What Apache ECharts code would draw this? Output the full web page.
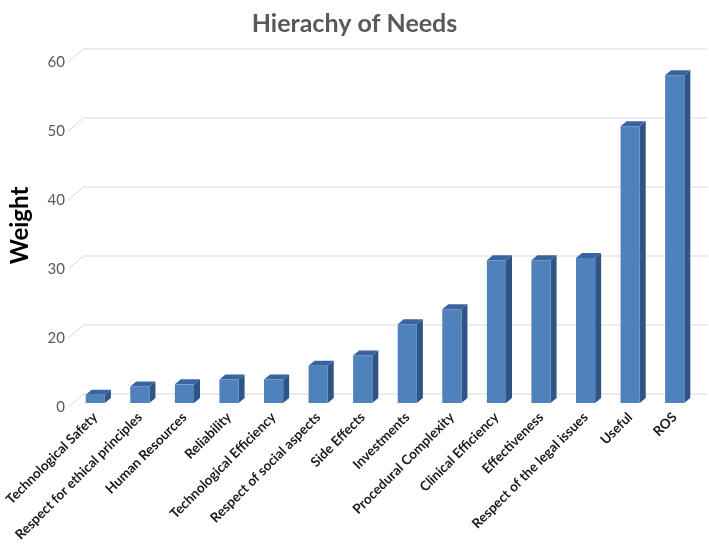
<!DOCTYPE html>
<html>
<head>
<meta charset="utf-8">
<script src="https://cdn.jsdelivr.net/npm/echarts@6/dist/echarts.min.js"></script>
<style>html,body{margin:0;padding:0;background:#fff}#c{width:709px;height:548px}</style>
</head>
<body>
<div id="c"></div>
<script>
var categories = ['Technological Safety','Respect for ethical principles','Human Resources','Reliability','Technological Efficiency','Respect of social aspects','Side Effects','Investments','Procedural Complexity','Clinical Efficiency','Effectiveness','Respect of the legal issues','Useful','ROS'];
var weights = [11.2, 12.4, 12.7, 13.4, 13.4, 15.4, 16.9, 21.4, 23.6, 30.7, 30.7, 31.0, 50.1, 57.5];
var tickValues = [10, 20, 30, 40, 50, 60];
var tickLabels = ['0', '20', '30', '40', '50', '60'];

var AXIS_MIN = 10, AXIS_MAX = 60, STEP = 10;
var chart = echarts.init(document.getElementById('c'), null, {renderer: 'canvas'});

function wallItem(params, api) {
  var cs = params.coordSys;
  var v = api.value(1);
  var y = api.coord([0, v])[1];
  var x0 = cs.x;
  return {
    type: 'polyline',
    shape: {points: [[x0 - 4.6, y + 4], [x0 + 10.4, y - 9], [x0 + cs.width + 10.4, y - 9]]},
    style: {stroke: '#d9d9d9', lineWidth: 1, fill: null},
    silent: true
  };
}

function barItem(params, api) {
  var i = api.value(0);
  var top = api.coord([i, api.value(1)]);
  var base = api.coord([i, AXIS_MIN]);
  var w = api.size([1, 0])[0] * 0.43;
  var xl = top[0] - w / 2, xr = top[0] + w / 2;
  var yt = top[1], yb = base[1];
  var dx = 6, dy = 5;
  return {
    type: 'group',
    children: [
      {type: 'polygon', shape: {points: [[xr, yt], [xr + dx, yt - dy], [xr + dx, yb - dy], [xr, yb]]}, style: {fill: '#2f5486'}},
      {type: 'polygon', shape: {points: [[xl, yt], [xl + dx, yt - dy], [xr + dx, yt - dy], [xr, yt]]}, style: {fill: '#3a64a0'}},
      {type: 'rect', shape: {x: xl, y: yt, width: w, height: yb - yt}, style: {fill: '#4f81bd'}}
    ]
  };
}

chart.setOption({
  animation: false,
  backgroundColor: '#fff',
  title: {
    text: 'Hierachy of Needs', left: 'center', top: 6,
    textStyle: {fontFamily: 'Lato', fontWeight: 'bold', fontSize: 25, color: '#595959'}
  },
  grid: [
    {left: 73, right: 12, top: 58, bottom: 145},
    {left: 68, right: 16, top: 62, bottom: 141}
  ],
  xAxis: [
    {
      type: 'category', gridIndex: 0, data: categories,
      axisLine: {show: false}, axisTick: {show: false},
      axisLabel: {interval: 0, rotate: 45, margin: 12, fontFamily: 'Lato', fontWeight: 'bold', fontSize: 13.5, color: '#1a1a1a'}
    },
    {type: 'category', gridIndex: 1, data: categories, show: false}
  ],
  yAxis: [
    {type: 'value', gridIndex: 0, min: AXIS_MIN, max: AXIS_MAX, interval: STEP, show: false},
    {
      type: 'value', gridIndex: 1, min: AXIS_MIN, max: AXIS_MAX, interval: STEP,
      axisLine: {show: false}, axisTick: {show: false}, splitLine: {show: false},
      axisLabel: {margin: 8, fontFamily: 'Lato', fontSize: 15, color: '#595959',
        formatter: function (v) { var k = tickValues.indexOf(v); return k >= 0 ? tickLabels[k] : ''; }},
      name: 'Weight', nameLocation: 'middle', nameRotate: 90, nameGap: 41,
      nameTextStyle: {fontFamily: 'Lato', fontWeight: 'bold', fontSize: 24, color: '#000', padding: [0, 0, 0, 18]}
    }
  ],
  series: [
    {
      type: 'custom', xAxisIndex: 0, yAxisIndex: 0, renderItem: wallItem, silent: true, z: 1,
      data: tickValues.map(function (v) { return [0, v]; })
    },
    {
      type: 'custom', xAxisIndex: 0, yAxisIndex: 0, renderItem: barItem, z: 2,
      encode: {x: 0, y: 1},
      data: weights.map(function (v, i) { return [i, v]; })
    }
  ]
});
</script>
</body>
</html>
